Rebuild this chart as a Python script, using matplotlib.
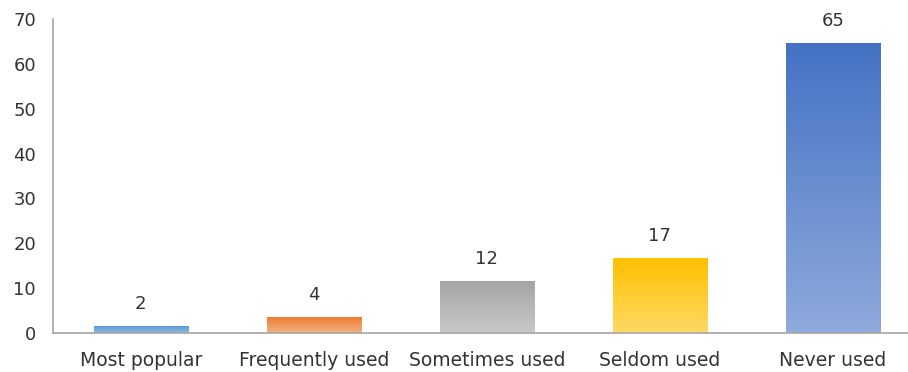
import numpy as np
import matplotlib.pyplot as plt
from matplotlib.colors import LinearSegmentedColormap

# Данные
categories = ["Most popular", "Frequently used", "Sometimes used", "Seldom used", "Never used"]
values = [1.5, 3.5, 11.5, 16.5, 64.6]
value_labels = ["2", "4", "12", "17", "65"]

# Градиенты (верх -> низ)
top_colors = ["#5b9bd5", "#ed7d31", "#a5a5a5", "#ffc000", "#4472c4"]
bottom_colors = ["#8db8e2", "#f4b183", "#c9c9c9", "#ffd966", "#8faadc"]

plt.rcParams['font.family'] = ['DejaVu Sans']

fig = plt.figure(figsize=(9.08, 3.72), dpi=100)
ax = fig.add_axes([0.058, 0.105, 0.942, 0.844])

x = np.arange(len(categories))
bars = ax.bar(x, values, width=0.545, color="none", edgecolor="none")

grad = np.linspace(0, 1, 256).reshape(-1, 1)
for bar, c_top, c_bot in zip(bars, top_colors, bottom_colors):
    cmap = LinearSegmentedColormap.from_list("g", [c_bot, c_top])
    x0, y0 = bar.get_x(), bar.get_y()
    w, h = bar.get_width(), bar.get_height()
    ax.imshow(grad, cmap=cmap, aspect="auto", origin="lower",
              extent=(x0, x0 + w, y0, y0 + h), zorder=2)

for xi, v, lab in zip(x, values, value_labels):
    ax.text(xi, v + 3.0, lab, ha="center", va="bottom", fontsize=13, color="#333333")

ax.set_xlim(-0.509, 4.434)
ax.set_ylim(0, 70)
ax.set_yticks(range(0, 71, 10))
ax.set_xticks(x)
ax.set_xticklabels(categories, fontsize=13.5)
ax.tick_params(axis="both", length=0, colors="#333333")
ax.tick_params(axis="y", labelsize=13, pad=12)
ax.tick_params(axis="x", pad=13)

for side in ["top", "right"]:
    ax.spines[side].set_visible(False)
ax.spines["left"].set_color("#a6a6a6")
ax.spines["bottom"].set_color("#a6a6a6")
ax.spines["left"].set_linewidth(1.2)
ax.spines["bottom"].set_linewidth(1.2)

fig.savefig("out.png", dpi=100)
